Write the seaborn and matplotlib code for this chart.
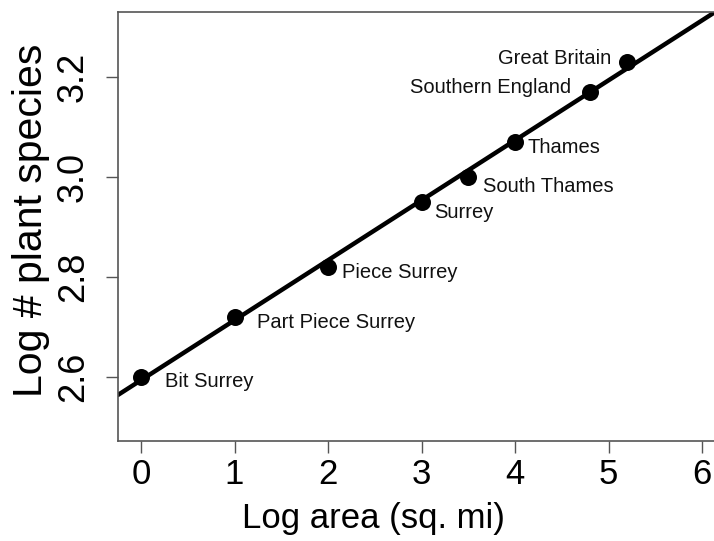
import matplotlib
matplotlib.use("Agg")
import matplotlib.pyplot as plt
import seaborn as sns
import pandas as pd

# Data
regions = ["Bit Surrey", "Part Piece Surrey", "Piece Surrey", "Surrey",
           "South Thames", "Thames", "Southern England", "Great Britain"]
log_area = [0.0, 1.0, 2.0, 3.0, 3.5, 4.0, 4.8, 5.2]
log_species = [2.60, 2.72, 2.82, 2.95, 3.00, 3.07, 3.17, 3.23]
x_ticks = [0, 1, 2, 3, 4, 5, 6]
y_ticks = [2.6, 2.8, 3.0, 3.2]
y_tick_labels = ["2.6", "2.8", "3.0", "3.2"]

# label offsets in pixels (dx, dy) and alignment
label_offsets = [(24, -5), (22, -6), (14, -6), (13, -11), (15, -10), (12, -6), (-19, 4), (-16, 3)]
label_ha = ["left", "left", "left", "left", "left", "left", "right", "right"]

df = pd.DataFrame({"area": log_area, "species": log_species, "region": regions})

sns.set_theme(style="ticks")
plt.rcParams["font.family"] = ["Liberation Sans", "DejaVu Sans"]
plt.rcParams["text.color"] = "black"
plt.rcParams["axes.labelcolor"] = "black"
plt.rcParams["xtick.labelcolor"] = "black"
plt.rcParams["ytick.labelcolor"] = "black"

fig = plt.figure(figsize=(7.14, 5.41), dpi=100)
ax = fig.add_axes([118 / 714, 100 / 541, 600 / 714, 429 / 541])
ax.set_xlim(-0.246, 6.17)
ax.set_ylim(2.471, 3.329)

sns.regplot(data=df, x="area", y="species", ax=ax, ci=None, truncate=False,
            color="black",
            scatter_kws={"s": 150, "alpha": 1, "linewidths": 0, "zorder": 3},
            line_kws={"lw": 3.2, "zorder": 2})

for xv, yv, name, (dx, dy), ha in zip(log_area, log_species, regions, label_offsets, label_ha):
    ax.annotate(name, (xv, yv), xytext=(dx * 0.72, dy * 0.72), textcoords="offset points",
                ha=ha, va="center", fontsize=14.5, color="#111111")

ax.set_xticks(x_ticks)
ax.set_xticklabels([str(t) for t in x_ticks])
ax.set_yticks(y_ticks)
ax.set_yticklabels(y_tick_labels, rotation=90, va="center")
ax.tick_params(axis="both", direction="out", length=8.5, width=1, color="#555555",
               labelcolor="black")
ax.tick_params(axis="x", labelsize=25, pad=4)
ax.tick_params(axis="y", labelsize=26, pad=11)
ax.set_xlabel("Log area (sq. mi)", fontsize=25, color="black")
ax.xaxis.set_label_coords(0.425, -0.142)
ax.set_ylabel("Log # plant species", fontsize=29.5, color="black")
ax.yaxis.set_label_coords(-0.113, 0.515)
for sp in ax.spines.values():
    sp.set_visible(True)
    sp.set_color("#555555")
    sp.set_linewidth(1.2)

fig.savefig("out.png", dpi=100)
